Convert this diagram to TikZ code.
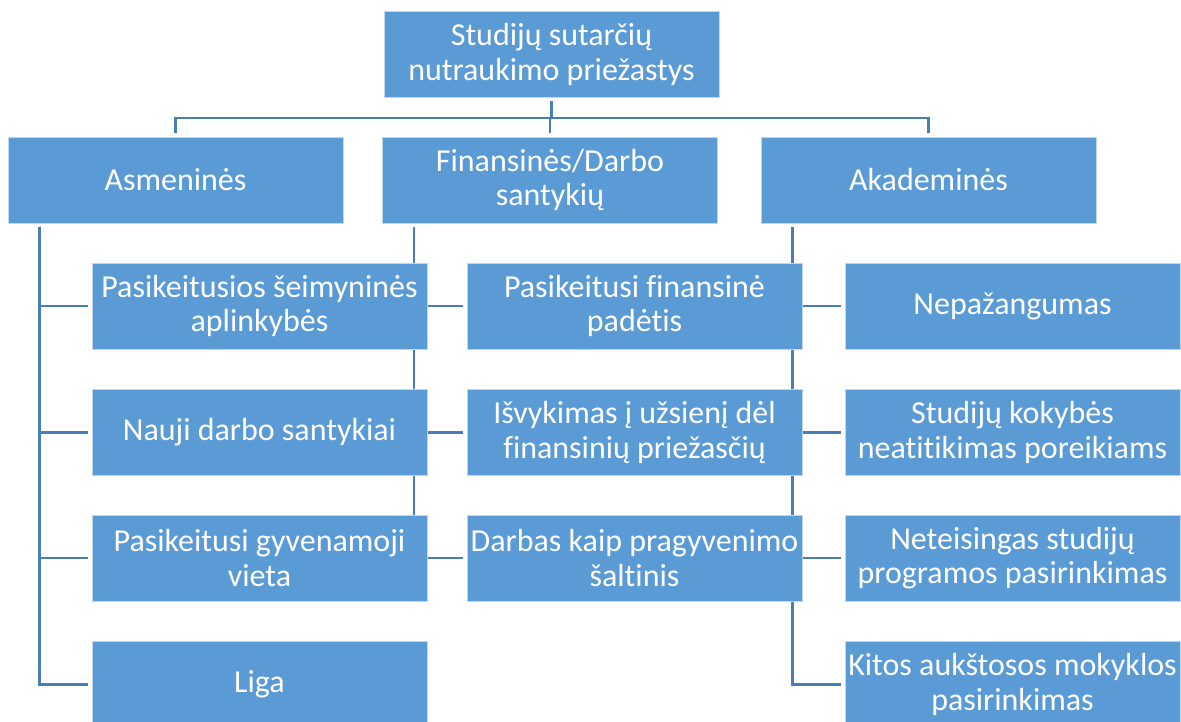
\documentclass[tikz,border=0pt]{standalone}
\usepackage{fontspec}
\setmainfont{Carlito}[Ligatures=NoCommon]
\usetikzlibrary{backgrounds}
\definecolor{boxblue}{RGB}{91,155,213}
\definecolor{lineblue}{RGB}{72,126,184}

\begin{document}
\begin{tikzpicture}[x=0.02cm, y=-0.02cm]
        \tikzstyle{boxstyle}=[shape=rectangle, fill=boxblue, draw=white!60!boxblue, line width=0.5pt, text=white, align=center, minimum width=6.7cm, minimum height=1.72cm, inner sep=1pt, font=\fontsize{18.2pt}{19.4pt}\selectfont]
        \tikzstyle{linkstyle}=[draw=lineblue, line width=1.5pt, shorten <=1.8pt, shorten >=1.8pt]
        \useasboundingbox (0,0) rectangle (1181,722);

        % root of the hierarchy
        \node[boxstyle] at (551.5, 54.5) (top) {Studijų sutarčių\\nutraukimo priežastys};

        % the three groups of reasons
        \node[boxstyle] at (175.5, 180) (asm) {Asmeninės};
        \node[boxstyle] at (550, 180) (fin) {Finansinės/Darbo\\santykių};
        \node[boxstyle] at (928.5, 180) (aka) {Akademinės};

        % personal reasons
        \node[boxstyle] at (259.5, 306) (asm1) {Pasikeitusios šeimyninės\\aplinkybės};
        \node[boxstyle] at (259.5, 432.5) (asm2) {Nauji darbo santykiai};
        \node[boxstyle] at (259.5, 558) (asm3) {Pasikeitusi gyvenamoji\\vieta};
        \node[boxstyle] at (259.5, 684.5) (asm4) {Liga};

        % financial / work reasons
        \node[boxstyle] at (634.5, 306) (fin1) {Pasikeitusi finansinė\\padėtis};
        \node[boxstyle] at (634.5, 432.5) (fin2) {Išvykimas į užsienį dėl\\finansinių priežasčių};
        \node[boxstyle] at (634.5, 558) (fin3) {Darbas kaip pragyvenimo\\šaltinis};

        % academic reasons
        \node[boxstyle] at (1012.5, 306) (aka1) {Nepažangumas};
        \node[boxstyle] at (1012.5, 432.5) (aka2) {Studijų kokybės\\neatitikimas poreikiams};
        \node[boxstyle] at (1012.5, 558) (aka3) {Neteisingas studijų\\programos pasirinkimas};
        \node[boxstyle] at (1012.5, 684.5) (aka4) {Kitos aukštosos mokyklos\\pasirinkimas};

        % connectors go behind the boxes
        \begin{pgfonlayer}{background}
          \draw[linkstyle] (top.south) -- ++(0,20) -| (asm.north);
          \draw[linkstyle] (top.south) -- ++(0,20) -| (fin.north);
          \draw[linkstyle] (top.south) -- ++(0,20) -| (aka.north);

          \foreach \c in {asm1,asm2,asm3,asm4}
          {
            \draw[linkstyle] ([xshift=0.64cm]asm.south west) |- (\c.west);
          };
          \foreach \c in {fin1,fin2,fin3}
          {
            \draw[linkstyle] ([xshift=0.64cm]fin.south west) |- (\c.west);
          };
          \foreach \c in {aka1,aka2,aka3,aka4}
          {
            \draw[linkstyle] ([xshift=0.64cm]aka.south west) |- (\c.west);
          };
        \end{pgfonlayer}
\end{tikzpicture}
\end{document}
